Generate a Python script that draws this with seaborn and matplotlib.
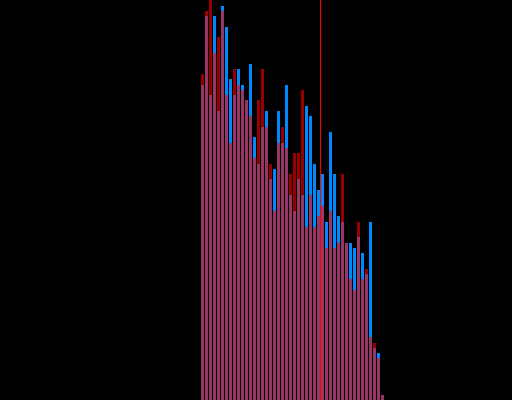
import numpy as np
import pandas as pd
import matplotlib
matplotlib.use('Agg')
import matplotlib.pyplot as plt
import seaborn as sns

# counts per bin, two overlapping series
bins = list(range(46))
red_counts = [326, 389, 400, 347, 363, 389, 305, 257, 331, 315, 310, 300,
              284, 242, 300, 331, 273, 236, 189, 257, 273, 252, 226, 247,
              247, 310, 173, 205, 173, 184, 194, 152, 189, 152, 157, 226,
              157, 121, 110, 178, 121, 131, 63, 57, 42, 5]
blue_counts = [315, 384, 305, 384, 289, 394, 373, 321, 305, 331, 315, 300,
               336, 263, 236, 273, 289, 221, 231, 289, 257, 315, 205, 189,
               221, 205, 294, 284, 236, 210, 226, 178, 268, 226, 184, 178,
               157, 157, 152, 163, 147, 126, 178, 52, 47, 5]
marker_pos = 29.5

df = pd.DataFrame({'bin': bins, 'red': red_counts, 'blue': blue_counts})

fig = plt.figure(figsize=(5.12, 4), dpi=100, facecolor='black')
ax = fig.add_axes([0, 0, 1, 1])
ax.set_facecolor('black')

sns.barplot(data=df, x='bin', y='blue', color='#0088ff', saturation=1,
            width=0.75, linewidth=0, ax=ax)
sns.barplot(data=df, x='bin', y='red', color='#ff0000', saturation=1,
            width=0.75, linewidth=0, alpha=0.6, ax=ax)
# marker line, 1 px wide
ax.axvspan(marker_pos - 0.125, marker_pos + 0.125, color='#ff0000', linewidth=0, zorder=5)

ax.set_xlim(-50.625, 77.375)
ax.set_ylim(0, 400)
ax.axis('off')

fig.savefig('out.png', dpi=100, facecolor='black')
